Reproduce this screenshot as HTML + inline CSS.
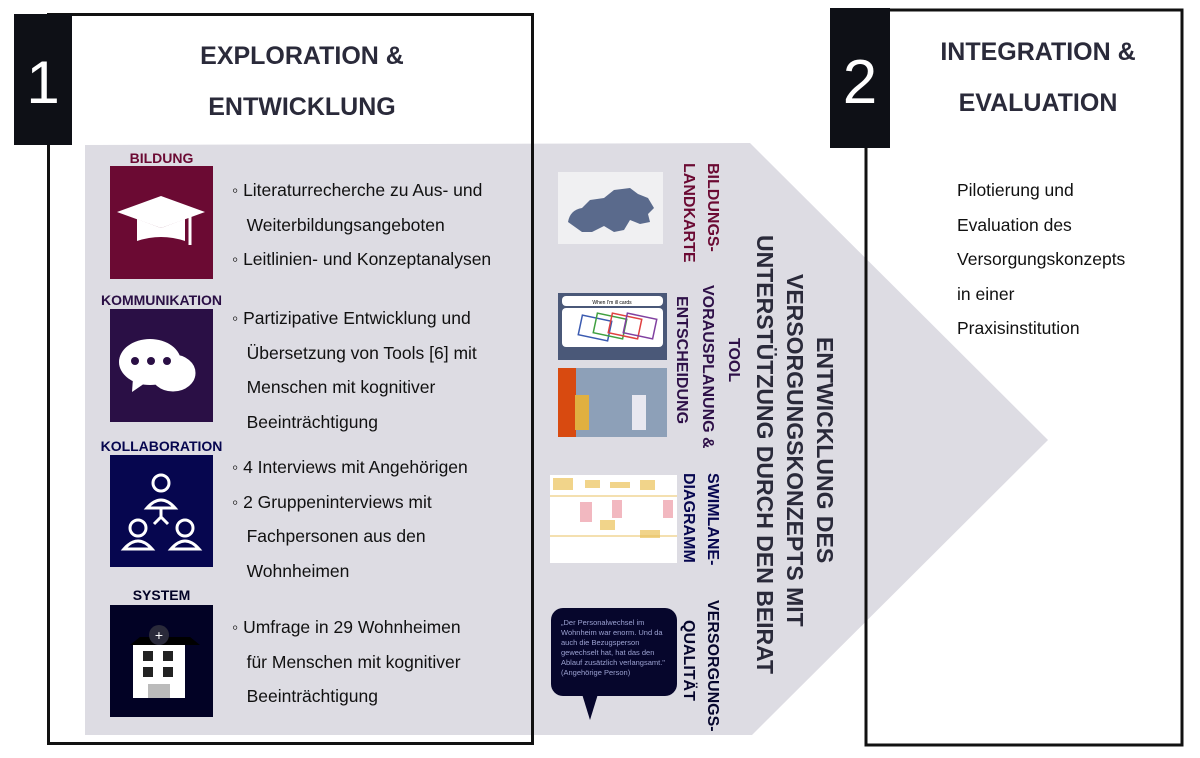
<!DOCTYPE html>
<html><head><meta charset="utf-8"><style>
body{margin:0;width:1200px;height:758px;background:#fff;position:relative;overflow:hidden;font-family:"Liberation Sans",sans-serif}
.a{position:absolute}
.t{font-size:17.5px;color:#111;line-height:34.5px}
.h{font-weight:bold;font-size:25px;color:#2a2a3a;text-align:center;line-height:51px}
.v{writing-mode:vertical-rl;font-weight:bold;white-space:nowrap}
.lab{font-weight:bold;font-size:14px;text-align:center}
</style></head><body>
<svg class="a" style="left:0;top:0" width="1200" height="758">
<polygon points="85,145 750,143 1048,440 752,735 85,735" fill="#dddce3"/>
<rect x="48.5" y="14.5" width="484" height="729" fill="none" stroke="#111" stroke-width="3"/>
<rect x="866" y="10" width="316" height="735" fill="none" stroke="#111" stroke-width="3"/>
<rect x="14" y="14" width="58" height="131" fill="#0e1016"/>
<rect x="830" y="8" width="60" height="140" fill="#0e1016"/>
<text x="43" y="103" fill="#fff" font-size="60" font-family="Liberation Sans" text-anchor="middle" transform="scale(1,1)">1</text>
<text x="860" y="103" fill="#fff" font-size="62" font-family="Liberation Sans" text-anchor="middle">2</text>
<rect x="110" y="166" width="103" height="113" fill="#6b0a33"/>
<polygon points="161,196 205,212 161,228 117,212" fill="#fff"/>
<path d="M137,219 v22 q24,-8 48,0 v-22 l-24,9z" fill="#fff"/>
<line x1="190" y1="210" x2="190" y2="245" stroke="#fff" stroke-width="3"/>
<rect x="110" y="309" width="103" height="113" fill="#2a0f45"/>
<ellipse cx="173" cy="373" rx="24" ry="20" fill="#fff" stroke="#2a0f45" stroke-width="3"/>
<ellipse cx="150" cy="362" rx="31" ry="23" fill="#fff"/>
<polygon points="133,378 132,392 148,381" fill="#fff"/>
<circle cx="135" cy="361" r="4" fill="#2a0f45"/><circle cx="151" cy="361" r="4" fill="#2a0f45"/><circle cx="167" cy="361" r="4" fill="#2a0f45"/>
<rect x="110" y="455" width="103" height="112" fill="#06064f"/>
<g fill="none" stroke="#fff" stroke-width="3"><circle cx="161" cy="483" r="8"/><path d="M147,508 q14,-16 28,0z"/><circle cx="138" cy="528" r="8"/><circle cx="185" cy="528" r="8"/><path d="M124,549 q14,-16 28,0z M171,549 q14,-16 28,0z M154,524 l7,-7 l7,7 M161,517 v-8"/></g>
<rect x="110" y="605" width="103" height="112" fill="#020225"/>
<polygon points="130,645 140,637 190,637 200,645" fill="#000"/>
<rect x="133" y="645" width="52" height="53" fill="#fff"/>
<rect x="143" y="651" width="10" height="10" fill="#222"/><rect x="163" y="651" width="10" height="10" fill="#222"/>
<rect x="143" y="667" width="10" height="10" fill="#222"/><rect x="163" y="667" width="10" height="10" fill="#222"/>
<rect x="148" y="684" width="22" height="14" fill="#bbb"/>
<circle cx="159" cy="635" r="10" fill="#2a2a3a"/><text x="159" y="640" fill="#fff" font-size="14" text-anchor="middle">+</text>
<rect x="558" y="172" width="105" height="72" fill="#f0f0f2"/>
<path d="M568,222 q2,-12 14,-14 l8,-8 l14,-2 l10,-8 l16,-2 l8,6 l10,4 l6,10 l-6,6 l2,8 l-10,2 l-10,-4 l-6,10 l-10,2 l-10,-6 l-12,6 l-10,0 z" fill="#5a6a8c"/>
<rect x="558" y="293" width="109" height="67" fill="#4a5878"/>
<rect x="562" y="296" width="101" height="10" rx="4" fill="#fff"/>
<rect x="562" y="308" width="101" height="39" rx="4" fill="#fff"/>
<g fill="none" stroke-width="1.5"><rect x="580" y="318" width="30" height="20" stroke="#3a5ab0" transform="rotate(12 595 328)"/><rect x="595" y="316" width="30" height="20" stroke="#40a040" transform="rotate(12 610 326)"/><rect x="610" y="316" width="30" height="20" stroke="#e04040" transform="rotate(12 625 326)"/><rect x="625" y="316" width="30" height="20" stroke="#8040a0" transform="rotate(12 640 326)"/></g>
<text x="612" y="304" font-size="5" text-anchor="middle">When I'm ill cards</text>
<rect x="558" y="368" width="109" height="69" fill="#8da0b8"/>
<rect x="558" y="368" width="18" height="69" fill="#d84a10"/>
<rect x="575" y="395" width="14" height="35" fill="#e0b040"/><rect x="632" y="395" width="14" height="35" fill="#e8e8f0"/>
<rect x="550" y="475" width="127" height="88" fill="#fff"/>
<g fill="#f1d48a"><rect x="553" y="478" width="20" height="12"/><rect x="585" y="480" width="15" height="8"/><rect x="610" y="482" width="20" height="6"/><rect x="640" y="480" width="15" height="10"/><rect x="600" y="520" width="15" height="10"/><rect x="640" y="530" width="20" height="8"/></g>
<g fill="#f2b8c0"><rect x="580" y="502" width="12" height="20"/><rect x="612" y="500" width="10" height="18"/><rect x="663" y="500" width="10" height="18"/></g>
<line x1="550" y1="496" x2="677" y2="496" stroke="#e8c060"/><line x1="550" y1="536" x2="677" y2="536" stroke="#e8c060"/>
<rect x="551" y="608" width="126" height="88" rx="12" fill="#06062c"/>
<polygon points="582,694 598,694 590,720" fill="#06062c"/>
</svg>
<div class="a" style="left:561px;top:618px;color:#9aa0d0;font-size:7.5px;line-height:10px;width:112px">„Der Personalwechsel im Wohnheim war enorm. Und da auch die Bezugsperson gewechselt hat, hat das den Ablauf zusätzlich verlangsamt."<br>(Angehörige Person)</div>
<div class="a h" style="left:150px;top:31px;width:304px">EXPLORATION &amp;<br>ENTWICKLUNG</div>
<div class="a h" style="left:900px;top:27px;width:276px">INTEGRATION &amp;<br>EVALUATION</div>
<div class="a lab" style="left:110px;top:150px;width:103px;color:#6b0a33">BILDUNG</div>
<div class="a lab" style="left:95px;top:292px;width:133px;color:#2a0f45">KOMMUNIKATION</div>
<div class="a lab" style="left:95px;top:438px;width:133px;color:#06064f">KOLLABORATION</div>
<div class="a lab" style="left:110px;top:587px;width:103px;color:#020225">SYSTEM</div>
<div class="a t" style="left:232px;top:173px">◦ Literaturrecherche zu Aus- und<br>&nbsp;&nbsp;&nbsp;Weiterbildungsangeboten<br>◦ Leitlinien- und Konzeptanalysen</div>
<div class="a t" style="left:232px;top:301px">◦ Partizipative Entwicklung und<br>&nbsp;&nbsp;&nbsp;Übersetzung von Tools [6] mit<br>&nbsp;&nbsp;&nbsp;Menschen mit kognitiver<br>&nbsp;&nbsp;&nbsp;Beeinträchtigung</div>
<div class="a t" style="left:232px;top:450px">◦ 4 Interviews mit Angehörigen<br>◦ 2 Gruppeninterviews mit<br>&nbsp;&nbsp;&nbsp;Fachpersonen aus den<br>&nbsp;&nbsp;&nbsp;Wohnheimen</div>
<div class="a t" style="left:232px;top:610px">◦ Umfrage in 29 Wohnheimen<br>&nbsp;&nbsp;&nbsp;für Menschen mit kognitiver<br>&nbsp;&nbsp;&nbsp;Beeinträchtigung</div>
<div class="a t" style="left:957px;top:173px">Pilotierung und<br>Evaluation des<br>Versorgungskonzepts<br>in einer<br>Praxisinstitution</div>
<div class="a v" style="left:750px;top:235px;height:430px;font-size:23px;line-height:30px;color:#2a2a3a;text-align:center">ENTWICKLUNG DES<br>VERSORGUNGSKONZEPTS MIT<br>UNTERSTÜTZUNG DURCH DEN BEIRAT</div>
<div class="a v" style="left:676px;top:163px;font-size:16px;line-height:24px;color:#6b0a33">BILDUNGS-<br>LANDKARTE</div>
<div class="a v" style="left:668px;top:285px;height:150px;font-size:16px;line-height:26px;color:#2e1048;text-align:center">TOOL<br>VORAUSPLANUNG &amp;<br>ENTSCHEIDUNG</div>
<div class="a v" style="left:676px;top:473px;font-size:16px;line-height:24px;color:#06064f">SWIMLANE-<br>DIAGRAMM</div>
<div class="a v" style="left:676px;top:600px;height:120px;font-size:16px;line-height:24px;color:#06062c;text-align:center">VERSORGUNGS-<br>QUALITÄT</div>
</body></html>
